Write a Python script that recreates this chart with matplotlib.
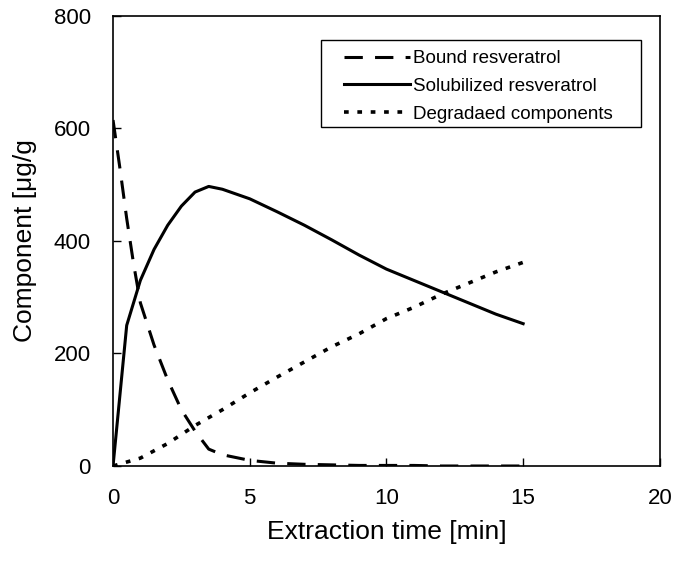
import matplotlib
matplotlib.use("Agg")
import matplotlib.pyplot as plt
from matplotlib.patches import Rectangle

plt.rcParams['font.family'] = ['Liberation Sans', 'DejaVu Sans']

t_bound = [0, 0.25, 0.5, 0.75, 1, 1.5, 2, 2.5, 3, 3.5, 4, 5, 6, 7, 8, 9, 10, 11, 12, 13, 14, 15]
bound = [615, 530, 440, 360, 290, 215, 153, 100, 62, 30, 20, 10, 5, 3, 2, 1, 1, 1, 0, 0, 0, 0]

t_sol = [0, 0.5, 1, 1.5, 2, 2.5, 3, 3.5, 4, 5, 6, 7, 8, 9, 10, 11, 12, 13, 14, 15]
sol = [0, 250, 330, 385, 428, 462, 487, 497, 492, 475, 452, 428, 402, 375, 350, 330, 310, 290, 270, 253]

t_deg = [0, 1, 2, 3, 4, 5, 6, 7, 8, 9, 10, 11, 12, 13, 14, 15]
deg = [0, 14, 40, 72, 100, 130, 158, 185, 212, 235, 262, 282, 305, 325, 345, 362]

fig = plt.figure(figsize=(6.74, 5.63), dpi=100)
ax = fig.add_axes([0.1677, 0.1723, 0.8113, 0.7993])

ax.plot(t_bound, bound, color='black', lw=2.2, dashes=(6, 4), label='Bound resveratrol')
ax.plot(t_sol, sol, color='black', lw=2.2, linestyle='-', label='Solubilized resveratrol')
ax.plot(t_deg, deg, color='black', lw=2.6, dashes=(1.3, 2.4), label='Degradaed components')

ax.set_xlim(0, 20)
ax.set_ylim(0, 800)
ax.set_xticks([0, 5, 10, 15, 20])
ax.set_yticks([0, 200, 400, 600, 800])
ax.tick_params(direction='in', length=6, width=1, labelsize=16)
ax.tick_params(axis='x', pad=16)
ax.tick_params(axis='y', pad=16)
for s in ax.spines.values():
    s.set_linewidth(1.2)

ax.set_xlabel('Extraction time [min]', fontsize=19, labelpad=8)
ax.set_ylabel('Component [μg/g', fontsize=19, labelpad=12)

leg = ax.legend(loc='upper left', bbox_to_anchor=(0.4223, 0.924), fontsize=13.5,
                frameon=False, handlelength=3.5,
                handletextpad=0.16, borderpad=0, labelspacing=0.56, borderaxespad=0)
ax.add_patch(Rectangle((0.380, 0.753), 0.585, 0.194, transform=ax.transAxes,
                       fill=False, edgecolor='black', lw=1.0, zorder=5))

fig.savefig('out.png', dpi=100)
